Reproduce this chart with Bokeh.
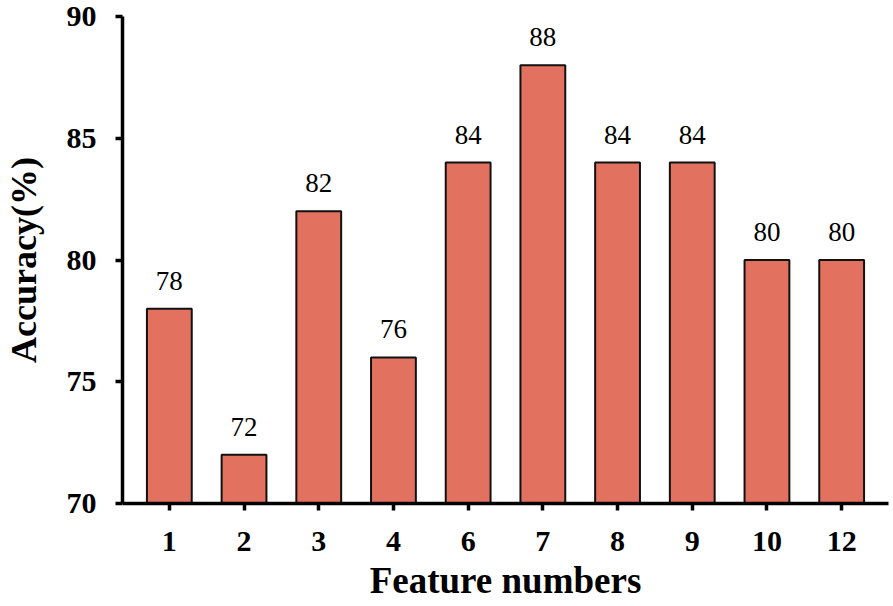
from bokeh.plotting import figure
from bokeh.models import ColumnDataSource, FactorRange, Range1d, FixedTicker
from bokeh.embed import file_html
from bokeh.resources import INLINE
from bokeh.core.properties import value

features = ["1", "2", "3", "4", "6", "7", "8", "9", "10", "12"]
accuracy = [78, 72, 82, 76, 84, 88, 84, 84, 80, 80]
y_ticks = [70, 75, 80, 85, 90]
x_title = "Feature numbers"
y_title = "Accuracy(%)"

src = ColumnDataSource(dict(x=features, top=accuracy, label=[str(v) for v in accuracy]))

p = figure(width=893, height=606,
           x_range=FactorRange(factors=features, range_padding=0.127, range_padding_units="absolute"),
           y_range=Range1d(70, 90),
           output_backend="svg", toolbar_location=None,
           min_border_left=120, min_border_right=5, min_border_top=16, min_border_bottom=103)

p.vbar(x="x", top="top", bottom=70, width=0.6, source=src,
       fill_color="#E2725F", line_color="#111111", line_width=2)

p.text(x="x", y="top", text="label", source=src, y_offset=-28,
       text_align="center", text_baseline="alphabetic",
       text_font=value("Liberation Serif"), text_font_size="27px", text_color="black")

p.outline_line_color = None
p.xgrid.visible = False
p.ygrid.visible = False

for ax in (p.xaxis[0], p.yaxis[0]):
    ax.axis_line_width = 3.5
    ax.axis_line_color = "black"
    ax.major_tick_line_width = 3.5
    ax.major_tick_line_color = "black"
    ax.major_tick_in = 0
    ax.minor_tick_line_color = None
    ax.major_label_text_font = "Liberation Serif"
    ax.major_label_text_font_style = "bold"
    ax.major_label_text_font_size = "30px"
    ax.major_label_text_color = "black"
    ax.axis_label_text_font = "Liberation Serif"
    ax.axis_label_text_font_style = "bold"
    ax.axis_label_text_color = "black"

p.xaxis.axis_label = x_title
p.yaxis.axis_label = y_title
p.xaxis.axis_label_text_font_size = "37px"
p.yaxis.axis_label_text_font_size = "36px"
p.xaxis.major_tick_out = 7
p.yaxis.major_tick_out = 7
p.xaxis.major_label_standoff = 21
p.xaxis.axis_label_standoff = 6
p.yaxis.major_label_standoff = 19
p.yaxis.axis_label_standoff = 20
p.yaxis.ticker = FixedTicker(ticks=y_ticks)

open("out.html", "w").write(file_html(p, INLINE))
